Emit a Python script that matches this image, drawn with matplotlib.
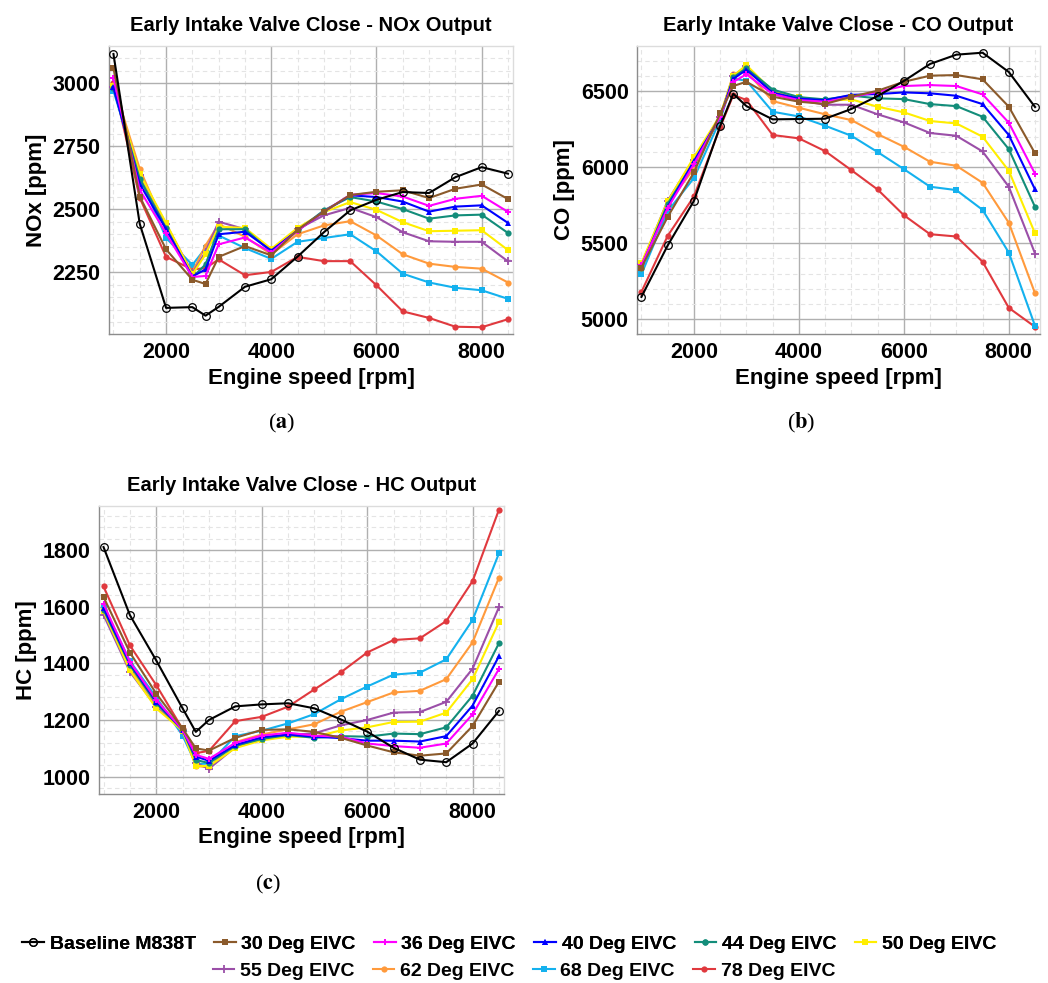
import matplotlib
matplotlib.use("Agg")
import matplotlib.pyplot as plt
from matplotlib.lines import Line2D
from matplotlib.ticker import MultipleLocator

plt.rcParams["font.family"] = ["Liberation Sans", "DejaVu Sans"]
plt.rcParams["font.weight"] = "bold"
plt.rcParams["mathtext.fontset"] = "stix"

rpm = [1000, 1500, 2000, 2500, 2750, 3000, 3500, 4000, 4500,
       5000, 5500, 6000, 6500, 7000, 7500, 8000, 8500]

series_names = ["Baseline M838T", "30 Deg EIVC", "36 Deg EIVC", "40 Deg EIVC",
                "44 Deg EIVC", "50 Deg EIVC", "55 Deg EIVC", "62 Deg EIVC",
                "68 Deg EIVC", "78 Deg EIVC"]

# NOx [ppm]
nox_baseline = [3117, 2441, 2107, 2110, 2076, 2111, 2191, 2221, 2311, 2408, 2495, 2537, 2568, 2564, 2627, 2667, 2641]
nox_30 = [3060, 2550, 2340, 2219, 2202, 2310, 2353, 2316, 2418, 2490, 2556, 2569, 2575, 2544, 2581, 2598, 2540]
nox_36 = [3020, 2576, 2404, 2230, 2234, 2360, 2387, 2327, 2414, 2490, 2557, 2564, 2550, 2513, 2541, 2553, 2489]
nox_40 = [2984, 2600, 2420, 2232, 2260, 2400, 2410, 2335, 2415, 2490, 2555, 2548, 2530, 2490, 2510, 2515, 2445]
nox_44 = [2980, 2620, 2425, 2228, 2280, 2420, 2420, 2330, 2415, 2495, 2548, 2530, 2500, 2462, 2475, 2478, 2405]
nox_50 = [2990, 2640, 2445, 2240, 2320, 2430, 2425, 2342, 2425, 2488, 2528, 2497, 2448, 2412, 2414, 2416, 2337]
nox_55 = [2985, 2635, 2440, 2245, 2330, 2450, 2420, 2335, 2420, 2475, 2505, 2468, 2408, 2372, 2370, 2370, 2292]
nox_62 = [2995, 2660, 2420, 2250, 2355, 2440, 2390, 2320, 2400, 2435, 2452, 2395, 2320, 2283, 2270, 2263, 2208]
nox_68 = [2970, 2630, 2385, 2278, 2345, 2395, 2345, 2302, 2370, 2385, 2400, 2332, 2243, 2208, 2187, 2177, 2143]
nox_78 = [3000, 2545, 2310, 2260, 2265, 2300, 2237, 2250, 2310, 2293, 2293, 2197, 2093, 2067, 2032, 2030, 2062]

# CO [ppm]
co_baseline = [5147, 5485, 5778, 6270, 6482, 6401, 6314, 6316, 6318, 6382, 6467, 6566, 6678, 6739, 6752, 6625, 6395]
co_30 = [5340, 5673, 5965, 6353, 6533, 6561, 6463, 6430, 6415, 6463, 6502, 6561, 6601, 6605, 6577, 6397, 6090]
co_36 = [5355, 5730, 6020, 6330, 6560, 6610, 6480, 6440, 6430, 6460, 6495, 6533, 6539, 6533, 6478, 6292, 5956]
co_40 = [5350, 5740, 6040, 6330, 6580, 6640, 6490, 6450, 6440, 6475, 6480, 6491, 6485, 6469, 6414, 6211, 5853]
co_44 = [5340, 5760, 6030, 6320, 6590, 6650, 6510, 6460, 6445, 6470, 6452, 6447, 6414, 6401, 6331, 6118, 5738]
co_50 = [5370, 5775, 6065, 6340, 6600, 6670, 6500, 6460, 6435, 6445, 6397, 6360, 6303, 6287, 6200, 5976, 5564]
co_55 = [5360, 5780, 6050, 6330, 6600, 6665, 6480, 6440, 6410, 6410, 6347, 6294, 6224, 6206, 6103, 5871, 5432]
co_62 = [5340, 5760, 5990, 6330, 6610, 6630, 6434, 6390, 6347, 6309, 6217, 6134, 6035, 6009, 5897, 5634, 5170]
co_68 = [5296, 5710, 5928, 6310, 6581, 6568, 6364, 6333, 6272, 6206, 6099, 5987, 5871, 5849, 5719, 5438, 4956]
co_78 = [5180, 5548, 5807, 6261, 6474, 6441, 6211, 6189, 6105, 5980, 5853, 5684, 5559, 5544, 5378, 5075, 4950]

# HC [ppm]
hc_baseline = [1810, 1570, 1410, 1241, 1158, 1200, 1248, 1255, 1259, 1241, 1202, 1159, 1102, 1060, 1051, 1117, 1232]
hc_30 = [1634, 1438, 1293, 1170, 1100, 1092, 1137, 1165, 1167, 1158, 1137, 1110, 1086, 1074, 1082, 1179, 1335]
hc_36 = [1610, 1405, 1271, 1165, 1077, 1063, 1119, 1145, 1155, 1145, 1141, 1117, 1108, 1102, 1117, 1220, 1380]
hc_40 = [1595, 1400, 1265, 1165, 1071, 1056, 1112, 1139, 1149, 1141, 1136, 1127, 1127, 1124, 1143, 1251, 1425]
hc_44 = [1589, 1394, 1259, 1165, 1059, 1048, 1109, 1133, 1147, 1137, 1143, 1141, 1152, 1150, 1174, 1286, 1471]
hc_50 = [1583, 1376, 1241, 1162, 1038, 1037, 1101, 1128, 1141, 1141, 1163, 1174, 1193, 1194, 1226, 1344, 1546]
hc_55 = [1571, 1370, 1247, 1162, 1048, 1028, 1104, 1133, 1147, 1153, 1181, 1200, 1226, 1228, 1264, 1381, 1598]
hc_62 = [1577, 1382, 1259, 1162, 1038, 1033, 1122, 1149, 1167, 1185, 1229, 1263, 1297, 1303, 1344, 1474, 1702]
hc_68 = [1601, 1408, 1280, 1145, 1045, 1046, 1143, 1162, 1188, 1221, 1273, 1318, 1360, 1367, 1414, 1553, 1788]
hc_78 = [1671, 1463, 1323, 1168, 1083, 1091, 1196, 1211, 1247, 1308, 1368, 1438, 1482, 1488, 1549, 1690, 1942]

colors = ["#000000", "#8B5A2B", "#FF00FF", "#0000FF", "#138D7A",
          "#FFEE00", "#9B4FA8", "#FF9A3C", "#14B1EE", "#E0393E"]
markers = ["o", "s", "P", "^", "o", "s", "+", "o", "s", "o"]

nox = [nox_baseline, nox_30, nox_36, nox_40, nox_44, nox_50, nox_55, nox_62, nox_68, nox_78]
co = [co_baseline, co_30, co_36, co_40, co_44, co_50, co_55, co_62, co_68, co_78]
hc = [hc_baseline, hc_30, hc_36, hc_40, hc_44, hc_50, hc_55, hc_62, hc_68, hc_78]


def style_marker(i):
    if i == 0:
        return dict(marker="o", markersize=5.5, markerfacecolor="none",
                    markeredgecolor="#000000", markeredgewidth=0.9)
    if markers[i] == "+":
        return dict(marker="+", markersize=6, markeredgewidth=1.3)
    if markers[i] == "P":
        return dict(marker="P", markersize=4.5, markeredgewidth=0)
    return dict(marker=markers[i], markersize=4.5, markeredgewidth=0)


def draw_panel(ax, data, title, ylabel, ylim, ymajor, yminor):
    for i, values in enumerate(data):
        ax.plot(rpm, values, color=colors[i], linewidth=1.5, zorder=3 + (10 - i) * 0.01,
                **style_marker(i))
    ax.set_xlim(915, 8595)
    ax.set_ylim(*ylim)
    ax.xaxis.set_major_locator(MultipleLocator(2000))
    ax.xaxis.set_minor_locator(MultipleLocator(500))
    ax.yaxis.set_major_locator(MultipleLocator(ymajor))
    ax.yaxis.set_minor_locator(MultipleLocator(yminor))
    ax.grid(which="major", color="#b0b0b0", linewidth=1.0)
    ax.grid(which="minor", color="#e4e4e4", linewidth=0.8, linestyle=(0, (4, 3)))
    ax.set_axisbelow(True)
    ax.tick_params(which="both", length=0, labelsize=15.5, pad=6)
    for lab in ax.get_xticklabels() + ax.get_yticklabels():
        lab.set_fontweight("bold")
    for side in ("top", "right"):
        ax.spines[side].set_color("#dcdcdc")
    for side in ("left", "bottom"):
        ax.spines[side].set_color("#8c8c8c")
    for sp in ax.spines.values():
        sp.set_linewidth(1.0)
    ax.set_title(title, fontsize=14.5, fontweight="bold", pad=11)
    ax.set_xlabel("Engine speed [rpm]", fontsize=16, fontweight="bold", labelpad=3)
    ax.set_ylabel(ylabel, fontsize=16, fontweight="bold", labelpad=4)


fig = plt.figure(figsize=(10.48, 9.83), dpi=100, facecolor="white")

ax_a = fig.add_axes([0.104, 0.6602, 0.3855, 0.293])
ax_b = fig.add_axes([0.6078, 0.6602, 0.3846, 0.293])
ax_c = fig.add_axes([0.0945, 0.1923, 0.3864, 0.293])

draw_panel(ax_a, nox, "Early Intake Valve Close - NOx Output", "NOx [ppm]",
           (2003, 3149), 250, 50)
draw_panel(ax_b, co, "Early Intake Valve Close - CO Output", "CO [ppm]",
           (4903, 6796), 500, 100)
draw_panel(ax_c, hc, "Early Intake Valve Close - HC Output", "HC [ppm]",
           (939, 1955), 200, 40)

cap_kw = dict(fontsize=16, ha="center", va="center", family="Liberation Serif",
              fontweight="normal")
fig.text(282 / 1048, 1 - 423 / 983, r"($\mathbf{a}$)", **cap_kw)
fig.text(801 / 1048, 1 - 423 / 983, r"($\mathbf{b}$)", **cap_kw)
fig.text(268 / 1048, 1 - 884 / 983, r"($\mathbf{c}$)", **cap_kw)


def legend_handle(i):
    return Line2D([0], [0], color=colors[i], linewidth=1.5, **style_marker(i))


handles = [legend_handle(i) for i in range(len(series_names))]
leg_kw = dict(frameon=False, handlelength=1.1, handletextpad=0.3, columnspacing=0.95,
              borderaxespad=0, prop={"size": 14, "weight": "bold"})
leg1 = fig.legend(handles[:6], series_names[:6], ncol=6, loc="center",
                  bbox_to_anchor=(0.486, 1 - 944 / 983), **leg_kw)
fig.add_artist(leg1)
fig.legend(handles[6:], series_names[6:], ncol=4, loc="center",
           bbox_to_anchor=(0.5, 1 - 971 / 983), **leg_kw)

fig.savefig("out.png", dpi=100, facecolor="white")
